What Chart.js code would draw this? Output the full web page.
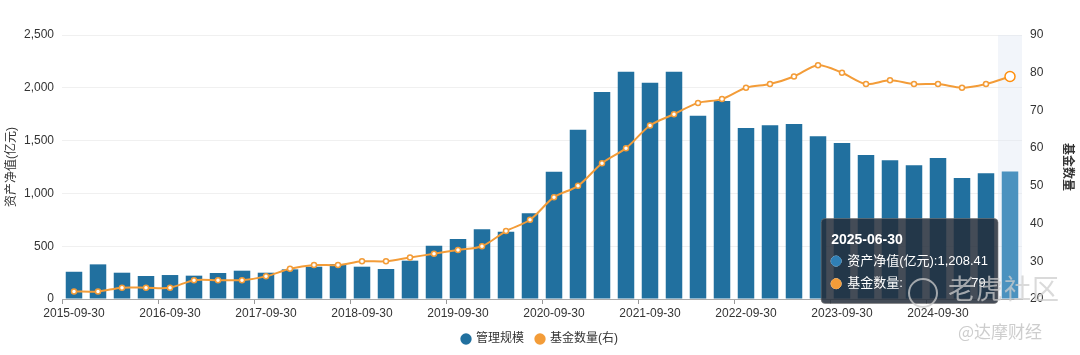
<!DOCTYPE html>
<html><head><meta charset="utf-8">
<script src="https://cdn.jsdelivr.net/npm/chart.js@4.4.1/dist/chart.umd.min.js"></script>
<style>
html,body{margin:0;padding:0;background:#fff;}
#wrap{position:relative;width:1080px;height:355px;overflow:hidden;}
canvas{display:block;}
.wm{position:absolute;font-family:"Noto Sans CJK SC",sans-serif;white-space:nowrap;pointer-events:none;}
#wm1{left:948px;top:268px;font-size:27px;color:rgba(205,205,205,0.75);letter-spacing:1px;}
#wm2{left:958px;top:318px;font-size:17px;color:rgba(200,200,200,0.9);}
#logo{position:absolute;left:908px;top:278px;width:26px;height:26px;border:2px solid rgba(205,205,205,0.75);border-radius:50%;}
</style></head><body>
<div id="wrap"><canvas id="c" width="1080" height="355"></canvas>
<div id="logo"></div><div class="wm" id="wm1">老虎社区</div><div class="wm" id="wm2">@达摩财经</div></div>
<script>
const categories = ["2015-09-30","2015-12-31","2016-03-31","2016-06-30","2016-09-30","2016-12-31","2017-03-31","2017-06-30","2017-09-30","2017-12-31","2018-03-31","2018-06-30","2018-09-30","2018-12-31","2019-03-31","2019-06-30","2019-09-30","2019-12-31","2020-03-31","2020-06-30","2020-09-30","2020-12-31","2021-03-31","2021-06-30","2021-09-30","2021-12-31","2022-03-31","2022-06-30","2022-09-30","2022-12-31","2023-03-31","2023-06-30","2023-09-30","2023-12-31","2024-03-31","2024-06-30","2024-09-30","2024-12-31","2025-03-31","2025-06-30"];
const netAssets = [258,328,249,218,227,221,246,268,249,281,306,331,306,284,363,505,568,660,637,811,1205,1603,1960,2152,2048,2152,1736,1875,1619,1645,1657,1541,1477,1364,1313,1266,1335,1146,1190,1208.41];
const fundCount = [22,22,23,23,23,25,25,25,26,28,29,29,30,30,31,32,33,34,38,41,47,50,56,60,66,69,72,73,76,77,79,82,80,77,78,77,77,76,77,79];
const leftTicks = [0,500,1000,1500,2000,2500];
const rightTicks = [20,30,40,50,60,70,80,90];
const seriesNames = ["管理规模","基金数量(右)"];
const axisTitles = ["资产净值(亿元)","基金数量"];
const tipNames = ["资产净值(亿元)","基金数量"];

const FONT = "'Liberation Sans','Noto Sans CJK SC',sans-serif";
const BLUE = '#21709f', BLUE_H = '#4b92bf', ORANGE = '#f39c38';

Chart.Tooltip.positioners.leftOfBar = function(items){
  if(!items.length) return false;
  const el = items[0].element;
  const area = this.chart.chartArea;
  const half = area.width / categories.length / 2;
  return {x: el.x - half, y: area.bottom - 38, xAlign:'right', yAlign:'center'};
};

const bandPlugin = {
  id:'band',
  beforeDatasetsDraw(chart){
    const act = chart.getActiveElements();
    if(!act.length) return;
    const area = chart.chartArea, xs = chart.scales.x;
    const w = area.width / categories.length;
    const cx = xs.getPixelForValue(act[0].index);
    const ctx = chart.ctx; ctx.save();
    ctx.fillStyle = 'rgba(222,230,242,0.4)';
    ctx.fillRect(cx - w/2, area.top, w, area.bottom - area.top);
    ctx.restore();
  }
};

const measureCtx = document.createElement('canvas').getContext('2d');
function padLabel(prefix, value, target){
  measureCtx.font = '13px ' + FONT;
  const tw = measureCtx.measureText(target).width;
  let s = prefix;
  while(measureCtx.measureText(s + ' ' + value).width <= tw) s += ' ';
  return s + value;
}

const chart = new Chart(document.getElementById('c'), {
  data:{
    labels: categories,
    datasets:[
      {type:'line', label:seriesNames[1], data:fundCount, yAxisID:'y1', borderColor:ORANGE, borderWidth:2,
       backgroundColor:'#fff', pointBackgroundColor:'#fff', pointBorderColor:ORANGE, pointRadius:2.5, pointBorderWidth:1.5,
       pointHoverRadius:5, pointHoverBorderWidth:1.5, pointHoverBackgroundColor:'#fff', tension:0.3, order:0},
      {type:'bar', label:seriesNames[0], data:netAssets, yAxisID:'y', backgroundColor:BLUE, hoverBackgroundColor:BLUE_H,
       categoryPercentage:0.8, barPercentage:0.86, order:1}
    ]
  },
  options:{
    responsive:false, animation:false, events:[],
    layout:{padding:{top:35,left:0,right:0,bottom:0}},
    scales:{
      x:{
        grid:{drawOnChartArea:false, tickLength:5, color:(c)=> (c.index%4===0 ? '#999' : 'rgba(0,0,0,0)')},
        border:{color:'#aaa'},
        ticks:{autoSkip:false, maxRotation:0, padding:2, color:'#333', font:{family:FONT,size:12},
          callback:function(v,i){return i%4===0 ? categories[i] : '';}},
        afterFit:(s)=>{s.height = 22;}
      },
      y:{
        position:'left', min:0, max:2500,
        afterBuildTicks:(s)=>{s.ticks = leftTicks.map(v=>({value:v}));},
        grid:{color:'#f0f0f0', drawTicks:false},
        border:{display:false},
        ticks:{padding:8, color:'#333', font:{family:FONT,size:12}, callback:(v)=>v.toLocaleString('en-US')},
        title:{display:true, text:axisTitles[0], color:'#333', font:{family:FONT,size:12}, padding:{top:4,bottom:0}},
        afterFit:(s)=>{s.width = 62;}
      },
      y1:{
        position:'right', min:20, max:90,
        afterBuildTicks:(s)=>{s.ticks = rightTicks.map(v=>({value:v}));},
        grid:{display:false, drawTicks:false},
        border:{display:false},
        ticks:{padding:8, color:'#333', font:{family:FONT,size:12}},
        title:{display:true, text:axisTitles[1], color:'#333', font:{family:FONT,size:12,weight:'bold'}, padding:{top:5,bottom:0}},
        afterFit:(s)=>{s.width = 58;}
      }
    },
    plugins:{
      legend:{
        position:'bottom',
        labels:{
          color:'#333', font:{family:FONT,size:12}, usePointStyle:true, boxWidth:8, boxHeight:8, padding:12,
          generateLabels:(ch)=>[
            {text:seriesNames[0], fillStyle:BLUE, strokeStyle:BLUE, lineWidth:0, pointStyle:'circle', datasetIndex:1, fontColor:'#333'},
            {text:seriesNames[1], fillStyle:ORANGE, strokeStyle:ORANGE, lineWidth:0, pointStyle:'circle', datasetIndex:0, fontColor:'#333'}
          ]
        }
      },
      tooltip:{
        mode:'index', intersect:false, position:'leftOfBar',
        backgroundColor:'rgba(35,45,58,0.85)', borderColor:'rgba(120,120,120,0.6)', borderWidth:1,
        cornerRadius:4, caretSize:0, caretPadding:0, padding:{left:10,right:10,top:13,bottom:12},
        titleColor:'#fff', titleFont:{family:FONT,size:14,weight:'bold'}, titleMarginBottom:5,
        bodyColor:'#fff', bodyFont:{family:FONT,size:13}, bodySpacing:7,
        usePointStyle:true, boxWidth:10, boxHeight:10, boxPadding:4,
        itemSort:(a,b)=>b.datasetIndex - a.datasetIndex,
        callbacks:{
          title:(items)=>items[0].label,
          label:(item)=>{
            const i = item.dataIndex;
            const first = tipNames[0] + ':' + netAssets[i].toLocaleString('en-US',{minimumFractionDigits:2,maximumFractionDigits:2});
            if(item.datasetIndex===1) return first;
            return padLabel(tipNames[1] + ':', String(fundCount[i]), first);
          },
          labelColor:(item)=>{
            const c = item.datasetIndex===1 ? '#2f7fb5' : ORANGE;
            return {borderColor:c, backgroundColor:c, borderWidth:0};
          },
          labelPointStyle:()=>({pointStyle:'circle', rotation:0})
        }
      }
    }
  },
  plugins:[bandPlugin]
});

const last = categories.length - 1;
const active = [{datasetIndex:1,index:last},{datasetIndex:0,index:last}];
chart.setActiveElements(active);
chart.tooltip.setActiveElements(active, {x:0,y:0});
chart.update('none');
</script>
</body></html>
